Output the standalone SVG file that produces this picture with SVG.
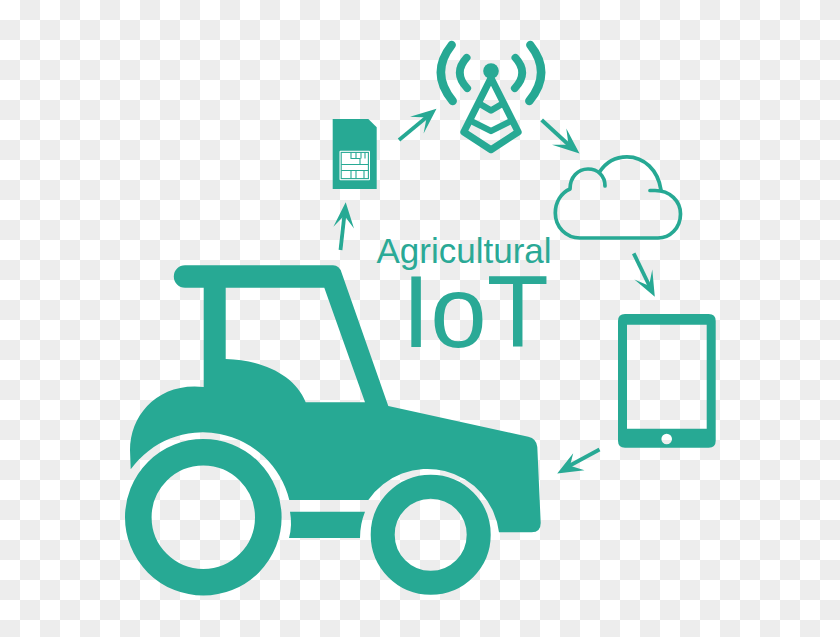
<svg xmlns="http://www.w3.org/2000/svg" width="840" height="637" viewBox="0 0 840 637">
  <style>
    .f{fill:#27a994}
    .s{fill:none;stroke:#27a994;stroke-linecap:round;stroke-linejoin:round}
    .a{fill:none;stroke:#27a994;stroke-width:3.8;stroke-linecap:butt}
    .h{fill:#27a994;stroke:none}
    .c{fill:none;stroke:#27a994;stroke-width:1.1}
    text{font-family:"Liberation Sans",Arial,sans-serif;fill:#2aa996}
  </style>
  <defs>
    <pattern id="checker" width="40" height="40" patternUnits="userSpaceOnUse">
      <rect width="40" height="40" fill="#ffffff"/>
      <rect x="20" width="20" height="20" fill="#ededed"/>
      <rect y="20" width="20" height="20" fill="#ededed"/>
    </pattern>
  </defs>
  <rect id="background" width="840" height="637" fill="url(#checker)"/>

  <g id="connectors">
    <g id="arrow-tractor-sim">
      <path class="a" d="M340.5 250L344.5 214"/>
      <path class="h" d="M345.7 202.3L354 228.6L344.3 215.5L333.4 226.8Z"/>
    </g>
    <g id="arrow-sim-tower">
      <path class="a" d="M399 140L428 116"/>
      <path class="h" d="M436.5 108.7L423.6 133.5L426.6 117.6L410 116.8Z"/>
    </g>
    <g id="arrow-tower-cloud">
      <path class="a" d="M541.7 120L570 146"/>
      <path class="h" d="M579.5 153.6L552 144.8L568.5 144.7L566.3 128.6Z"/>
    </g>
    <g id="arrow-cloud-tablet">
      <path class="a" d="M633.7 253.3L650 287"/>
      <path class="h" d="M654.8 296.8L634.4 279.4L649 285.8L652.3 269.6Z"/>
    </g>
    <g id="arrow-tablet-tractor">
      <path class="a" d="M599.5 449.5L569 466"/>
      <path class="h" d="M557.2 473.4L573.2 453.2L570 465.8L584.5 470.2Z"/>
    </g>
  </g>

  <g id="tractor">
    <path class="f" fill-rule="evenodd" d="M185 265.3H333Q339.5 265.3 341.7 273L388.3 406L528.3 436.7Q536.5 438.5 537.3 447L540.7 523Q540.7 532.3 531.7 532.3H499A72 72 0 0 0 368.3 500H289.3A89 89 0 0 0 130.7 469.3L130 450C130 415 158 382 203.7 387V287.7H185A11.2 11.2 0 0 1 185 265.3ZM225.7 287.7H324.3L365 402.3H305.7C295 375 262 360 225.7 359Z"/>
    <path class="f" d="M290 511.7H365Q360 524 360 538H289Q292.5 525 290 511.7Z"/>
    <circle class="s" cx="203.3" cy="517.3" r="65" stroke-width="26.6"/>
    <circle class="s" cx="430.7" cy="534.7" r="48" stroke-width="24"/>
  </g>

  <g id="sim-card">
    <path class="f" d="M332.7 119H368.3L376.7 127.3V189H332.7Z"/>
    <rect x="339.5" y="150.7" width="30.5" height="29.5" rx="1" fill="#ffffff"/>
    <rect class="c" x="341.2" y="152.4" width="27.2" height="26.2"/>
    <path class="c" d="M351 152.4V158.5H360V164.5H368.4M356 152.4V158.5M361 152.4V158.5M365 152.4V158.5M341.2 164.5H360M341.2 170.5H368.4M351 170.5V178.6M356 170.5V178.6M364 170.5V178.6"/>
  </g>

  <g id="tower">
    <circle class="f" cx="491" cy="71" r="7.8"/>
    <path class="s" stroke-width="7" d="M491 78L463.8 132L491 149.7L518.2 132Z"/>
    <path class="s" stroke-width="6.4" d="M480 104L491 110.5L502 104M472 121.5L491 131L510 121.5"/>
    <path class="s" stroke-width="7.6" d="M466.7 57.7Q452.6 73 467.3 88.3M515.3 57.7Q529.4 73 514.7 88.3"/>
    <path class="s" stroke-width="8.4" d="M451.7 45Q429.5 73 452.7 101M530.3 45Q552.5 73 529.3 101"/>
  </g>

  <g id="cloud">
    <path class="s" stroke-width="3.7" d="M650 190.5H655C670 190.5 680.5 201 680.5 214C680.5 228 670 238 658 238H580C566 238 555.3 227 555.3 213C555.3 202 561 193 570 189C570 177 578 169 588 169C598 169 605 176 605 186"/>
    <path class="s" stroke-width="3.7" d="M599.5 172C606 162 616 156.8 627 156.8C644 156.8 658 170 661 190"/>
  </g>

  <g id="tablet">
    <path class="f" fill-rule="evenodd" d="M625 314H708.7Q715.7 314 715.7 321V440.7Q715.7 447.7 708.7 447.7H625Q618 447.7 618 440.7V321Q618 314 625 314ZM627 324.7V428.7H706.7V324.7ZM672 439A5.3 5.3 0 1 0 661.4 439A5.3 5.3 0 1 0 672 439Z"/>
  </g>

  <g id="title">
    <text x="376.5" y="263.3" font-size="35">Agricultural</text>
    <text x="402" y="347" font-size="101.5">IoT</text>
  </g>
</svg>
